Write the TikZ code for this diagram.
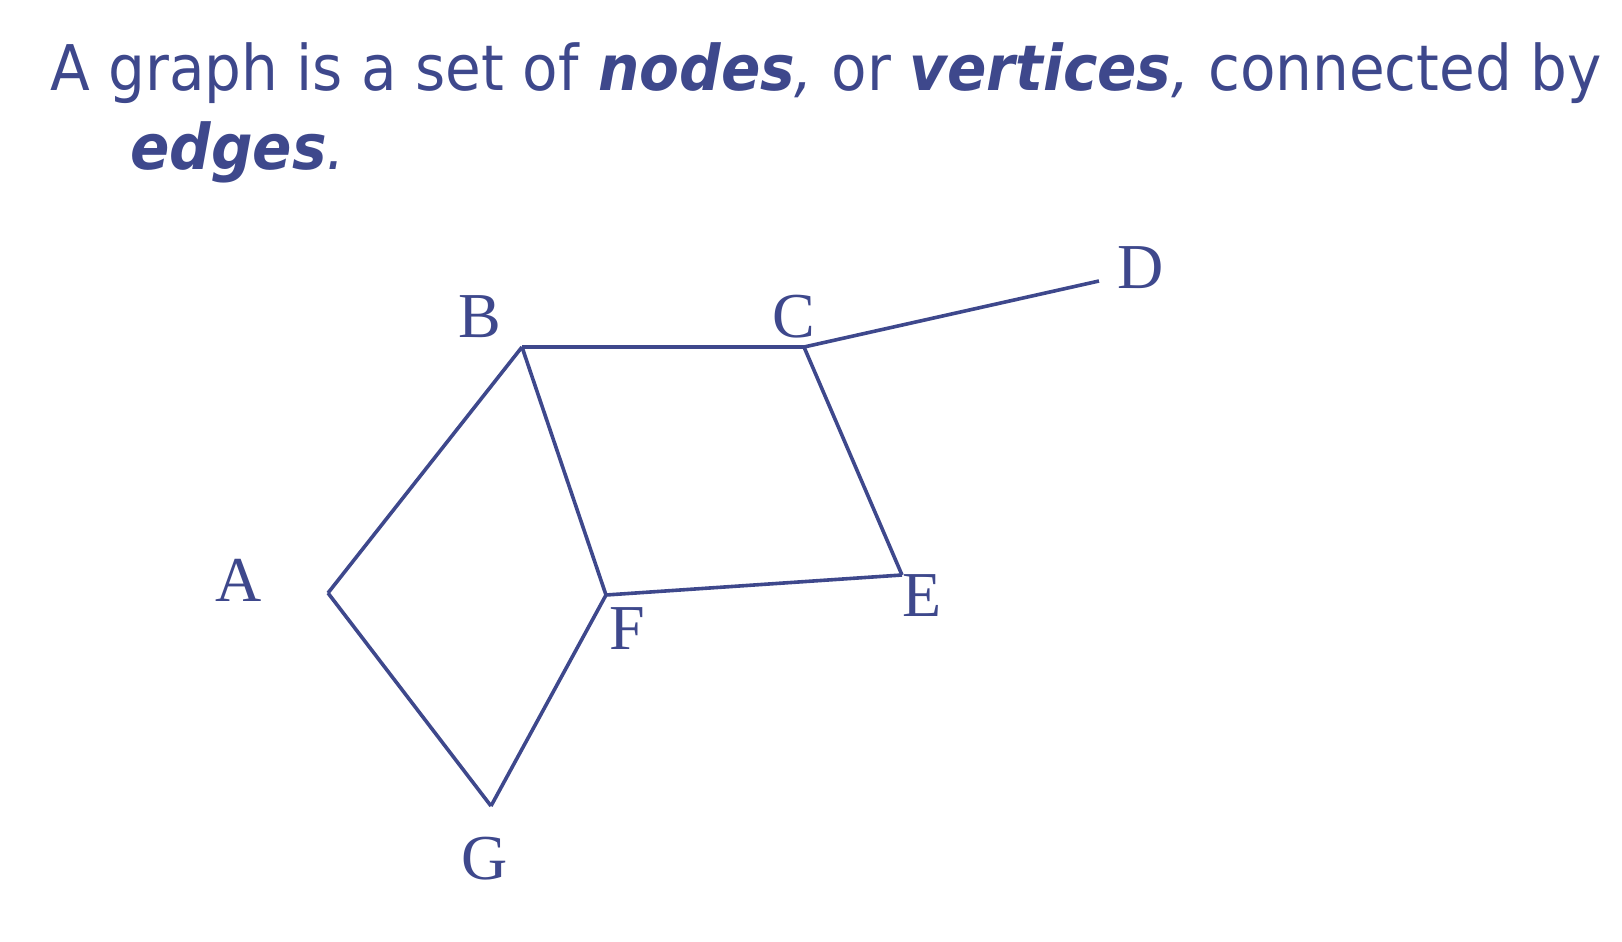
\documentclass[tikz,border=0pt]{standalone}
\usepackage{fontspec}
\setmainfont{Liberation Serif}
\newfontfamily\titlefont{DejaVu Sans Condensed}
\usepackage{tikz}
\usetikzlibrary{positioning}
\definecolor{slideblue}{RGB}{62,72,140}

\begin{document}
\begin{tikzpicture}[x=0.5pt,y=-0.5pt]
          \tikzstyle{vlabel} = [inner sep=0pt, text=slideblue, font=\fontsize{32}{36}\selectfont]
          \tikzstyle{title} = [inner sep=0pt, anchor=base west, text=slideblue, font=\titlefont\fontsize{31.5}{38}\selectfont]
          \tikzstyle{edge} = [draw=slideblue, line width=1.8pt]
          \useasboundingbox (0,0) rectangle (1622,942);

          \node[title] (title1) at (50,90) {\scalebox{1.024}[1]{A graph is a set of \textbf{\textit{nodes}}\textit{,} or \textbf{\textit{vertices}}\textit{,} connected by}};
          \node[title] (title2) at (130,169) {\scalebox{1.024}[1]{\textbf{\textit{edges}}\textit{.}}};

          \coordinate (A) at (328,593);
          \coordinate (B) at (522,347);
          \coordinate (C) at (804,347);
          \coordinate (D) at (1099,281);
          \coordinate (E) at (902,575);
          \coordinate (F) at (606,595);
          \coordinate (G) at (491,806);

          \node[vlabel] (lA) at (239,580) {A};
          \node[vlabel] (lB) at (480,317) {B};
          \node[vlabel] (lC) at (794,317) {C};
          \node[vlabel] (lD) at (1141,268) {D};
          \node[vlabel] (lE) at (922,596) {E};
          \node[vlabel] (lF) at (627,629) {F};
          \node[vlabel] (lG) at (485,859) {G};

          \draw[edge] (A) to (B);
          \draw[edge] (A) to (G);
          \draw[edge] (B) to (C);
          \draw[edge] (B) to (F);
          \draw[edge] (C) to (D);
          \draw[edge] (C) to (E);
          \draw[edge] (E) to (F);
          \draw[edge] (F) to (G);
        \end{tikzpicture}
\end{document}
